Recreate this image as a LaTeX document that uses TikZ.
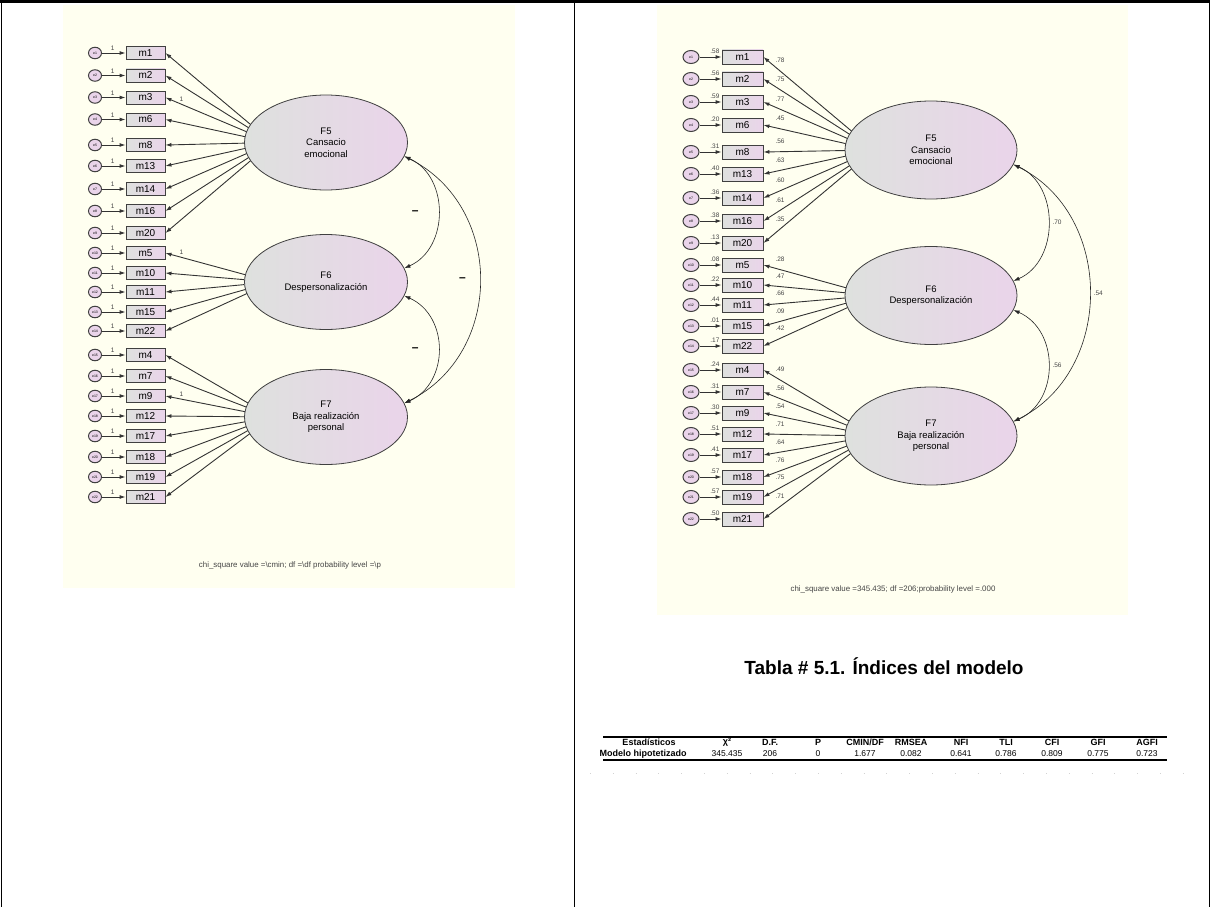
\documentclass[tikz,border=0pt]{standalone}
\usepackage{fontspec}
\setmainfont{Liberation Sans}
\usetikzlibrary{arrows.meta,shapes.geometric}

\definecolor{cream}{RGB}{255,255,240}
\definecolor{mauve}{RGB}{234,212,234}
\definecolor{pale}{RGB}{222,225,222}
\definecolor{ink}{RGB}{70,70,70}

\tikzset{
  lbl/.style={font=\fontsize{6.5}{7}\selectfont, text=ink, inner sep=0.5pt},
  dashmark/.style={font=\fontsize{12}{12}\selectfont\bfseries, inner sep=0pt},
  errl/.style={ellipse, draw=black!75, line width=1pt, fill=mauve, minimum width=13pt, minimum height=11.5pt, inner sep=0pt, font=\fontsize{3.5}{4}\selectfont},
  errr/.style={errl, minimum width=16pt, minimum height=13pt},
  iteml/.style={rectangle, draw=black!75, line width=0.9pt, left color=pale, right color=mauve, minimum width=39pt, minimum height=13pt, inner sep=0pt, font=\fontsize{10}{10}\selectfont},
  itemr/.style={iteml, minimum width=41pt, minimum height=14pt},
  latentl/.style={ellipse, draw=black!75, line width=0.8pt, left color=pale, right color=mauve, minimum width=163pt, minimum height=95pt, inner sep=0pt, align=center, font=\fontsize{9.5}{11.5}\selectfont},
  latentr/.style={latentl, minimum width=172pt, minimum height=98pt},
  load/.style={-{Latex[length=6pt,width=4pt]}, line width=0.9pt, draw=black!80},
  cov/.style={{Latex[length=6pt,width=4pt]}-{Latex[length=6pt,width=4pt]}, line width=0.6pt, draw=black!85},
  chi/.style={font=\fontsize{7.9}{9}\selectfont, text=ink},
  thead/.style={font=\fontsize{9}{10}\selectfont\bfseries, inner sep=0pt},
  tcell/.style={font=\fontsize{8.5}{10}\selectfont, inner sep=0pt},
}

\begin{document}
\begin{tikzpicture}[x=1pt,y=-1pt]
\useasboundingbox (0,0) rectangle (1210,907);
% cell frame
\draw[line width=3pt] (0,1.5) -- (1210,1.5);
\draw (1,0) -- (1,907);
\draw (574,0) -- (574,907);
\draw (1209,0) -- (1209,907);

% diagram backgrounds
\fill[cream] (63,5) rectangle (515,588);
\fill[cream] (657,5) rectangle (1128,615);

% loadings aim at these points inside the factors
\coordinate (lcF5) at (272,142.5);
\coordinate (lcF6) at (272,282);
\coordinate (lcF7) at (272,417);
\coordinate (rcF5) at (874,150);
\coordinate (rcF6) at (874,295.5);
\coordinate (rcF7) at (874,436);

% error / item / loading rows, left and right model
\foreach \k/\m/\yl/\yr/\f/\lam/\rsq in {
  1/m1/53/57/F5/.78/.58,
  2/m2/75.5/79/F5/.75/.56,
  3/m3/97.5/102/F5/.77/.59,
  4/m6/119.5/125/F5/.45/.20,
  5/m8/145/152/F5/.56/.31,
  6/m13/166/174/F5/.63/.40,
  7/m14/189/198/F5/.60/.36,
  8/m16/211/221/F5/.61/.38,
  9/m20/233/243/F5/.35/.13,
  10/m5/253/265/F6/.28/.08,
  11/m10/273/285/F6/.47/.22,
  12/m11/292/305/F6/.66/.44,
  13/m15/312/326/F6/.09/.01,
  14/m22/331/346/F6/.42/.17,
  15/m4/355/370/F7/.49/.24,
  16/m7/376/392/F7/.56/.31,
  17/m9/396/413/F7/.54/.30,
  18/m12/416/434/F7/.71/.51,
  19/m17/436/455/F7/.64/.41,
  20/m18/457/477/F7/.76/.57,
  21/m19/477/497/F7/.75/.57,
  22/m21/497/519/F7/.71/.50}{
  \node[errl] (le\k) at (95,\yl) {e\k};
  \node[iteml] (l\m) at (145.5,\yl) {\m};
  \draw[load] (le\k) -- (l\m) node[lbl, pos=.45, above=1.5pt] {1};
  \draw[load] (lc\f) -- (l\m.east);
  \node[errr] (re\k) at (691,\yr) {e\k};
  \node[itemr] (r\m) at (742.5,\yr) {\m};
  \draw[load] (re\k) -- (r\m) node[lbl, pos=.7, above=2.5pt] {\rsq};
  \draw[load] (rc\f) -- (r\m.east) node[lbl, pos=.85, above=7pt] {\lam};
}

% fixed loadings
\path (lcF5) -- (lm3.east) node[lbl, pos=.85, above=2pt] {1};
\path (lcF6) -- (lm5.east) node[lbl, pos=.85, above=2pt] {1};
\path (lcF7) -- (lm9.east) node[lbl, pos=.85, above=2pt] {1};

% factors
\node[latentl] (lF5) at (326,142.5) {F5\\Cansacio\\emocional};
\node[latentl] (lF6) at (326,282) {F6\\Despersonalización};
\node[latentl] (lF7) at (326,417) {F7\\Baja realización\\personal};
\node[latentr] (rF5) at (931,150) {F5\\Cansacio\\emocional};
\node[latentr] (rF6) at (931,295.5) {F6\\Despersonalización};
\node[latentr] (rF7) at (931,436) {F7\\Baja realización\\personal};

% covariances
\draw[cov] (lF5.-10) .. controls +(45,20) and +(45,-20) .. (lF6.10)
  node[dashmark, pos=.5, xshift=-23pt] {--};
\draw[cov] (lF6.-10) .. controls +(45,20) and +(45,-20) .. (lF7.10)
  node[dashmark, pos=.5, xshift=-23pt] {--};
\draw[cov] (lF5.-10) .. controls +(100,50) and +(100,-50) .. (lF7.10)
  node[dashmark, pos=.5, xshift=-17pt] {--};
\draw[cov] (rF5.-10) .. controls +(46,20) and +(46,-20) .. (rF6.10)
  node[lbl, pos=.5, xshift=9pt] {.70};
\draw[cov] (rF6.-10) .. controls +(46,20) and +(46,-20) .. (rF7.10)
  node[lbl, pos=.5, xshift=9pt] {.56};
\draw[cov] (rF5.-10) .. controls +(101,50) and +(101,-50) .. (rF7.10)
  node[lbl, pos=.5, xshift=9pt] {.54};

% fit lines
\node[chi] (lchi) at (290,565) {chi\_square value =\textbackslash cmin; df =\textbackslash df probability level =\textbackslash p};
\node[chi] (rchi) at (893,589) {chi\_square value =345.435; df =206;probability level =.000};

% title and fit table
\node[font=\fontsize{19}{22}\selectfont\bfseries] (title) at (884,666) {Tabla \# 5.1. Índices del modelo};
\draw[line width=1.4pt] (603,737) -- (1167,737);
\draw[line width=1.4pt] (603,760) -- (1167,760);
\node[thead] (hstat) at (649,742.5) {Estadísticos};
\node[thead] (vstat) at (643,754) {Modelo hipotetizado};
\foreach \x/\h/\v [count=\c] in {727/χ²/345.435, 770/D.F./206, 818/P/0,
  865/{CMIN/DF}/1.677, 911/RMSEA/0.082, 961/NFI/0.641, 1006/TLI/0.786,
  1052/CFI/0.809, 1098/GFI/0.775, 1147/AGFI/0.723}{
  \node[thead] (h\c) at (\x,742.5) {\h};
  \node[tcell] (v\c) at (\x,754) {\v};
}
\draw[gray!35, dash pattern=on 0.8pt off 22pt] (590,773) -- (1190,773);
\end{tikzpicture}
\end{document}
